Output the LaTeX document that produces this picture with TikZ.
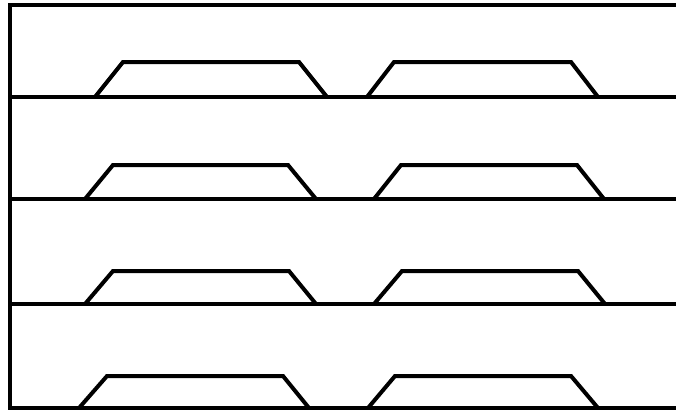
\documentclass[tikz,border=0pt]{standalone}
\begin{document}
\begin{tikzpicture}[
  x=1pt, y=-1pt,
  wall/.style={line width=4pt},
  bump/.style={line width=4pt, line join=miter}
]
\useasboundingbox (0,0) rectangle (676,415);

% frame and shelves
\draw[wall] (676,5) -- (10,5) -- (10,408) -- (676,408);
\foreach \y in {97,199,304}
  \draw[wall] (10,\y) -- (676,\y);

% trapezoids: base y / top y / corners left to right
\foreach \yb/\yt/\a/\b/\c/\d in {
    97/62/95/123/299/327, 97/62/367/394/571/598,
    199/165/85/113/288/316, 199/165/374/401/577/604,
    304/271/85/113/289/316, 304/271/374/402/578/605,
    408/376/79/107/283/309, 408/376/368/395/571/598}
  \draw[bump] (\a,\yb) -- (\b,\yt) -- (\c,\yt) -- (\d,\yb);
\end{tikzpicture}
\end{document}
